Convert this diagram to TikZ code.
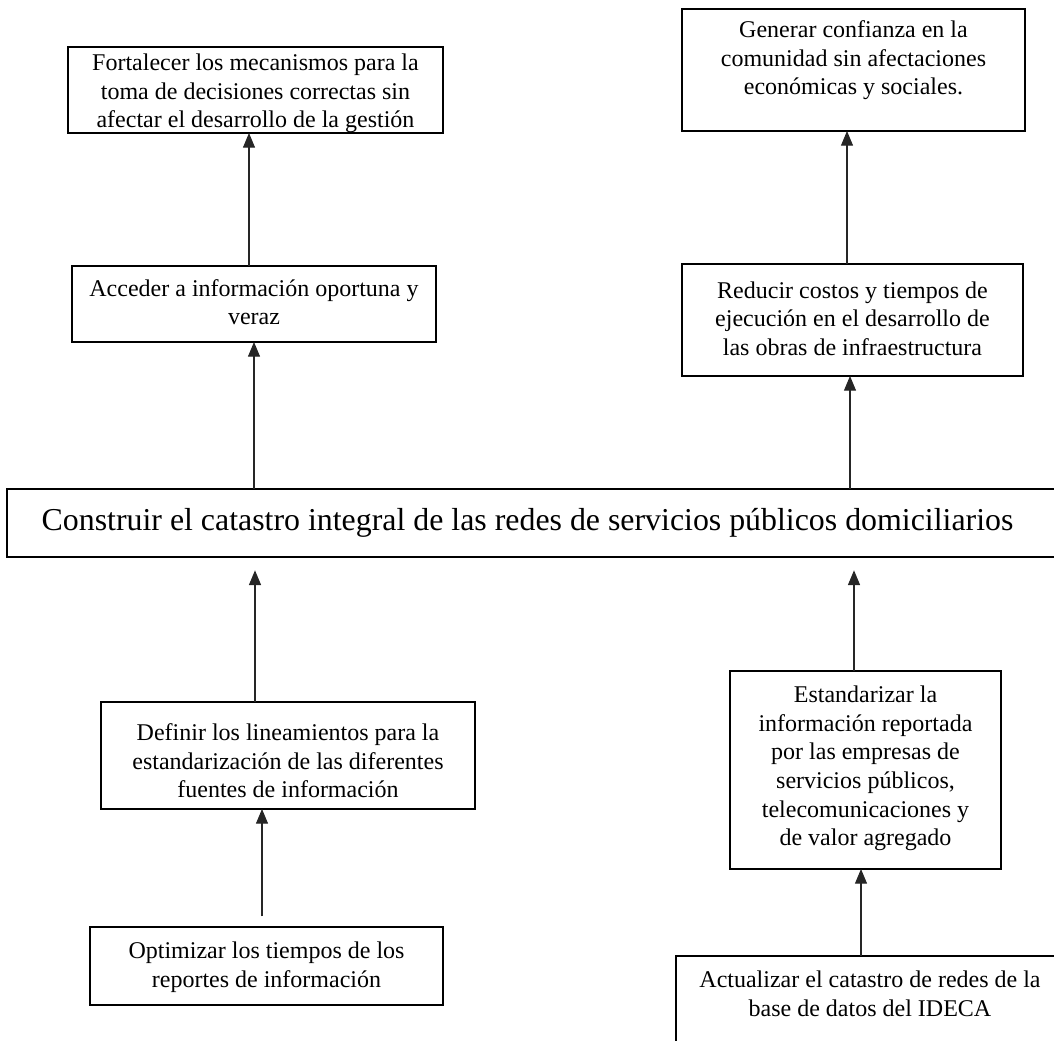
\documentclass[tikz,border=0pt]{standalone}
\usepackage{fontspec}
\setmainfont{Liberation Serif}
\usetikzlibrary{arrows.meta}
\newdimen\pxu \pxu=0.75pt
% height, width, first baseline, text
\newcommand\btext[4]{\parbox[c][#1\pxu][t]{#2\pxu}{\centering\rule{0pt}{#3\pxu}#4}}

\begin{document}
\begin{tikzpicture}[x=0.75pt,y=-0.75pt,
 box/.style={draw=black,line width=1.1pt,inner sep=0pt,outer sep=0pt,
 align=center,font=\fontsize{18}{21.5}\selectfont},
 arr/.style={-{Triangle[length=11pt,width=9pt]},line width=0.8pt,draw=black!85}]
\clip (0,0) rectangle (1054,1040);
\node[box] (fort) at (255.5,90)
 {\btext{86}{375}{23.5}{Fortalecer los mecanismos para la\\toma de decisiones correctas sin\\afectar el desarrollo de la gestión}};
\node[box] (gen) at (853.5,70)
 {\btext{122}{343}{28.5}{Generar confianza en la\\comunidad sin afectaciones\\económicas y sociales.}};
\node[box] (acc) at (254,304)
 {\btext{76}{364}{30}{Acceder a información oportuna y\\veraz}};
\node[box] (red) at (852.5,320)
 {\btext{112}{341}{34}{Reducir costos y tiempos de\\ejecución en el desarrollo de\\las obras de infraestructura}};
\node[box,minimum width=1057*0.75pt,minimum height=68*0.75pt,font=\fontsize{23.9}{28}\selectfont] (cons) at (535.5,523)
 {Construir el catastro integral de las redes de servicios públicos domiciliarios\hspace*{12pt}};
\node[box] (defi) at (288,755.5)
 {\btext{107}{374}{38.5}{Definir los lineamientos para la\\estandarización de las diferentes\\fuentes de información}};
\node[box] (est) at (865.5,770)
 {\btext{198}{271}{31.5}{Estandarizar la\\información reportada\\por las empresas de\\servicios públicos,\\telecomunicaciones y\\de valor agregado}};
\node[box] (opt) at (266.5,966)
 {\btext{78}{353}{31.5}{Optimizar los tiempos de los\\reportes de información}};
\node[box] (act) at (870,999)
 {\btext{86}{388}{31.5}{Actualizar el catastro de redes de la\\base de datos del IDECA}};
\coordinate (x1) at (249,0);
\coordinate (x2) at (847,0);
\coordinate (x3) at (254,0);
\coordinate (x4) at (850,0);
\coordinate (x5) at (255,0);
\coordinate (x6) at (854,0);
\coordinate (x7) at (262,0);
\coordinate (x8) at (861,0);
\draw[arr] (acc.north -| x1)--(fort.south -| x1);
\draw[arr] (red.north -| x2)--(gen.south -| x2);
\draw[arr] (cons.north -| x3)--(acc.south -| x3);
\draw[arr] (cons.north -| x4)--(red.south -| x4);
\draw[arr,shorten >=10pt] (defi.north -| x5)--(cons.south -| x5);
\draw[arr,shorten >=10pt] (est.north -| x6)--(cons.south -| x6);
\draw[arr,shorten <=8pt] (opt.north -| x7)--(defi.south -| x7);
\draw[arr] (act.north -| x8)--(est.south -| x8);
\end{tikzpicture}
\end{document}
